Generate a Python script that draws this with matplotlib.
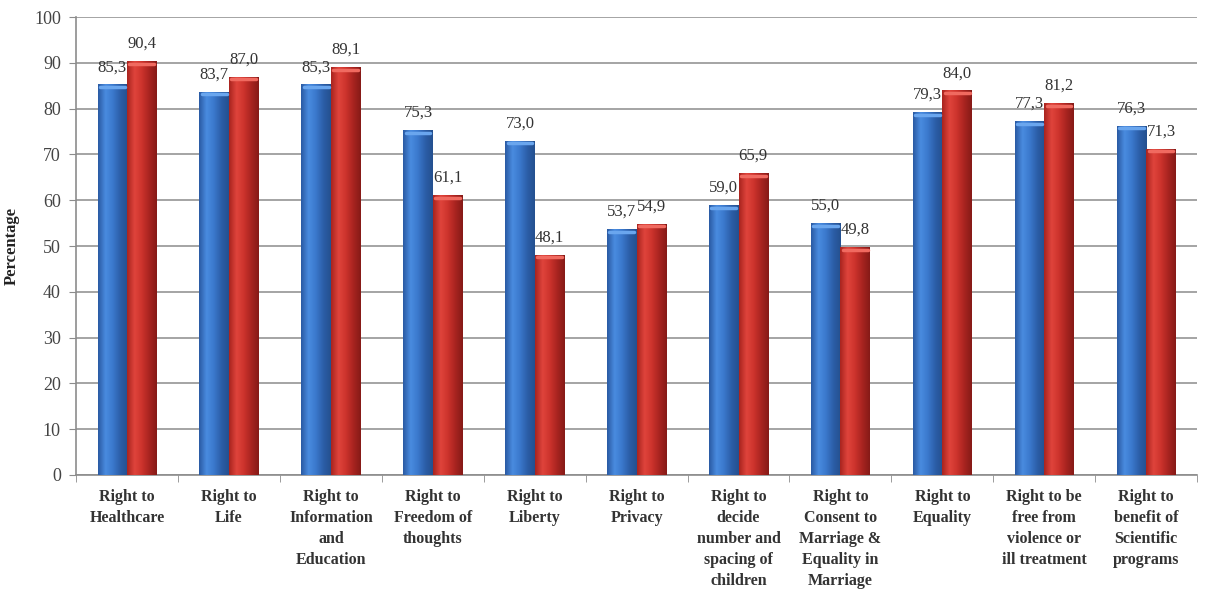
import matplotlib.pyplot as plt
import numpy as np
from matplotlib.colors import LinearSegmentedColormap

plt.rcParams['font.family'] = ['Liberation Serif', 'DejaVu Serif']

categories = ["Right to\nHealthcare", "Right to\nLife", "Right to\nInformation\nand\nEducation",
              "Right to\nFreedom of\nthoughts", "Right to\nLiberty", "Right to\nPrivacy",
              "Right to\ndecide\nnumber and\nspacing of\nchildren",
              "Right to\nConsent to\nMarriage &\nEquality in\nMarriage",
              "Right to\nEquality", "Right to be\nfree from\nviolence or\nill treatment",
              "Right to\nbenefit of\nScientific\nprograms"]
blue_vals = [85.3, 83.7, 85.3, 75.3, 73.0, 53.7, 59.0, 55.0, 79.3, 77.3, 76.3]
red_vals = [90.4, 87.0, 89.1, 61.1, 48.1, 54.9, 65.9, 49.8, 84.0, 81.2, 71.3]

fig = plt.figure(figsize=(12.08, 5.9), dpi=100)
ax = fig.add_axes([0.063, 0.195, 0.928, 0.776])

x = np.arange(len(categories))
w = 0.29
bb = ax.bar(x - w/2, blue_vals, w, color='#3b78cf', linewidth=0, zorder=3)
rb = ax.bar(x + w/2, red_vals, w, color='#d0312d', linewidth=0, zorder=3)

# cylinder-like shading
blue_cm = LinearSegmentedColormap.from_list('b', ['#2a5aa3', '#4a8ce0', '#3a78cc', '#2c5ea8', '#24508f'])
red_cm = LinearSegmentedColormap.from_list('r', ['#a8241f', '#e0443c', '#cc332c', '#a82420', '#861a17'])
grad = np.linspace(0, 1, 64).reshape(1, -1)
for bars, cm, cap in [(bb, blue_cm, '#6aa6ee'), (rb, red_cm, '#f06a60')]:
    for p in bars:
        x0, y0 = p.get_x(), p.get_y()
        bw, bh = p.get_width(), p.get_height()
        im = ax.imshow(grad, cmap=cm, aspect='auto', extent=[x0, x0 + bw, y0, y0 + bh],
                       zorder=3.5, interpolation='bicubic')
        im.set_clip_path(p)
        ax.plot([x0 + bw*0.08, x0 + bw*0.92], [y0 + bh - 0.6, y0 + bh - 0.6], color=cap,
                linewidth=2.5, solid_capstyle='round', zorder=3.6)

def fmt(v):
    return ("%.1f" % v).replace('.', ',')

for i in range(len(categories)):
    ax.text(x[i] - w/2, blue_vals[i] + 2.0, fmt(blue_vals[i]), ha='center', va='bottom',
            fontsize=12, color='#333333', zorder=4)
    ax.text(x[i] + w/2, red_vals[i] + 2.0, fmt(red_vals[i]), ha='center', va='bottom',
            fontsize=12, color='#333333', zorder=4)

ax.set_xlim(-0.5, len(categories) - 0.5)
ax.set_ylim(0, 100)
ax.set_yticks(range(0, 101, 10))
ax.yaxis.grid(True, color='#8c8c8c', linewidth=1.1, zorder=0)
ax.set_axisbelow(True)
for s in ['top', 'right']:
    ax.spines[s].set_visible(False)
ax.spines['left'].set_color('#8c8c8c')
ax.spines['bottom'].set_color('#8c8c8c')
ax.spines['left'].set_linewidth(1.2)
ax.spines['bottom'].set_linewidth(1.2)

ax.set_xticks(x)
ax.set_xticklabels(categories, fontsize=11.5, fontweight='bold', color='#333333', linespacing=1.42)
ax.tick_params(axis='x', length=0, pad=10)
ax.set_xticks(np.arange(-0.5, len(categories)), minor=True)
ax.tick_params(axis='x', which='minor', length=5, color='#8c8c8c')
ax.tick_params(axis='y', labelsize=13, labelcolor='#444444', length=5, color='#8c8c8c', pad=6)
ax.set_ylabel("Percentage", fontsize=12, fontweight='bold', labelpad=10, color='#222222')

plt.savefig('out.png')
